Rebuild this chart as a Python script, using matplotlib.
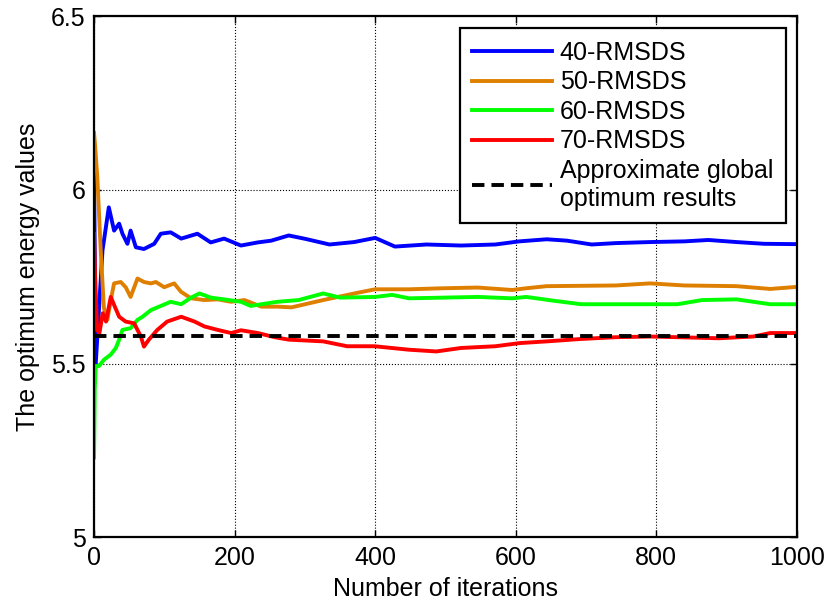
import matplotlib
matplotlib.use("Agg")
import matplotlib.pyplot as plt

# Дані
x_40 = [0, 2.4, 12, 21, 28.5, 35.7, 40.4, 47.5, 52, 59.5, 71, 85.6, 95, 109, 124, 147, 166, 185, 209, 233,
        252, 277, 301, 335, 370, 400, 428, 473, 522, 571, 605, 644, 673, 708, 742, 791, 840, 874, 914, 953, 1000]
y_40 = [6.045, 5.50, 5.826, 5.95, 5.883, 5.903, 5.874, 5.845, 5.883, 5.835, 5.83, 5.845, 5.874, 5.878, 5.86,
        5.874, 5.849, 5.86, 5.84, 5.849, 5.854, 5.869, 5.859, 5.843, 5.85, 5.862, 5.837, 5.843, 5.84, 5.843,
        5.852, 5.858, 5.854, 5.843, 5.847, 5.85, 5.852, 5.856, 5.85, 5.845, 5.844]

x_50 = [0, 1.4, 4.7, 9.5, 14, 19, 23.8, 28.5, 38, 45, 52, 61.8, 71, 80.8, 87.9, 99.8, 114, 123.6, 138, 157,
        176, 195, 214, 238, 261, 281, 326, 375, 400, 448, 497, 546, 595, 615, 644, 742, 791, 840, 914, 962, 1000]
y_50 = [6.164, 6.13, 6.035, 5.826, 5.66, 5.626, 5.683, 5.731, 5.735, 5.72, 5.692, 5.745, 5.735, 5.731, 5.735,
        5.72, 5.731, 5.707, 5.688, 5.683, 5.685, 5.678, 5.683, 5.664, 5.664, 5.662, 5.683, 5.704, 5.714, 5.714,
        5.717, 5.719, 5.712, 5.717, 5.723, 5.725, 5.731, 5.725, 5.723, 5.715, 5.721]

x_60 = [0, 1, 2.4, 7, 14, 23.8, 31, 35.7, 40.4, 52, 61.8, 69, 80.8, 95, 109, 124, 138, 150, 166, 185, 209,
        223, 238, 261, 291, 326, 350, 400, 424, 448, 497, 546, 595, 615, 654, 693, 830, 865, 914, 938, 962, 1000]
y_60 = [5.23, 5.426, 5.493, 5.493, 5.511, 5.526, 5.545, 5.569, 5.597, 5.602, 5.626, 5.635, 5.654, 5.666,
        5.678, 5.671, 5.69, 5.702, 5.69, 5.685, 5.678, 5.666, 5.671, 5.678, 5.683, 5.702, 5.69, 5.692, 5.698,
        5.688, 5.69, 5.692, 5.688, 5.692, 5.681, 5.671, 5.671, 5.683, 5.685, 5.678, 5.671, 5.671]

x_70 = [0, 1.4, 4.3, 7.6, 12.4, 17, 23.8, 28.5, 35.7, 45, 57, 66.6, 71, 78, 90, 104, 124, 143, 157, 176,
        195, 209, 233, 257, 277, 326, 360, 399, 448, 487, 522, 571, 605, 644, 693, 742, 791, 889, 938, 962, 1000]
y_70 = [5.873, 5.759, 5.597, 5.588, 5.645, 5.621, 5.692, 5.669, 5.635, 5.621, 5.616, 5.578, 5.549, 5.569,
        5.597, 5.621, 5.635, 5.621, 5.607, 5.597, 5.588, 5.596, 5.588, 5.576, 5.569, 5.564, 5.55, 5.55, 5.54,
        5.535, 5.545, 5.55, 5.559, 5.564, 5.571, 5.576, 5.578, 5.573, 5.578, 5.588, 5.588]

optimum = 5.58
series_labels = ["40-RMSDS", "50-RMSDS", "60-RMSDS", "70-RMSDS"]
optimum_label = "Approximate global\noptimum results"
x_ticks = [0, 200, 400, 600, 800, 1000]
y_ticks = [5, 5.5, 6, 6.5]
y_tick_labels = ["5", "5.5", "6", "6.5"]

plt.rcParams["font.family"] = ["Liberation Sans", "DejaVu Sans"]
plt.rcParams["font.size"] = 18

fig = plt.figure(figsize=(8.25, 6.05), dpi=100)
ax = fig.add_axes([0.114, 0.112, 0.852, 0.861])

colors = ["#0000ff", "#df7f00", "#00ff00", "#ff0000"]
for xs, ys, c, lab in zip([x_40, x_50, x_60, x_70], [y_40, y_50, y_60, y_70], colors, series_labels):
    ax.plot(xs, ys, color=c, lw=2.8, label=lab)
ax.plot([0, 1000], [optimum, optimum], color="black", lw=2.8, linestyle=(0, (3.2, 1.8)), label=optimum_label)

ax.set_xlim(0, 1000)
ax.set_ylim(5, 6.5)
ax.set_xticks(x_ticks)
ax.set_yticks(y_ticks)
ax.set_yticklabels(y_tick_labels)
ax.tick_params(direction="in", top=True, right=True, length=5, width=1, pad=6)
ax.grid(True, color="black", linestyle=":", linewidth=0.8)
for s in ax.spines.values():
    s.set_linewidth(1.6)

ax.set_xlabel("Number of iterations", labelpad=5)
ax.set_ylabel("The optimum energy values", labelpad=8)

leg = ax.legend(loc="upper right", bbox_to_anchor=(0.984, 0.977), borderaxespad=0, fancybox=False,
                framealpha=1, edgecolor="black", handlelength=3.2, labelspacing=0.22, borderpad=0.5,
                handletextpad=0.3)
leg.get_frame().set_linewidth(1.6)

fig.savefig("out.png", dpi=100)
